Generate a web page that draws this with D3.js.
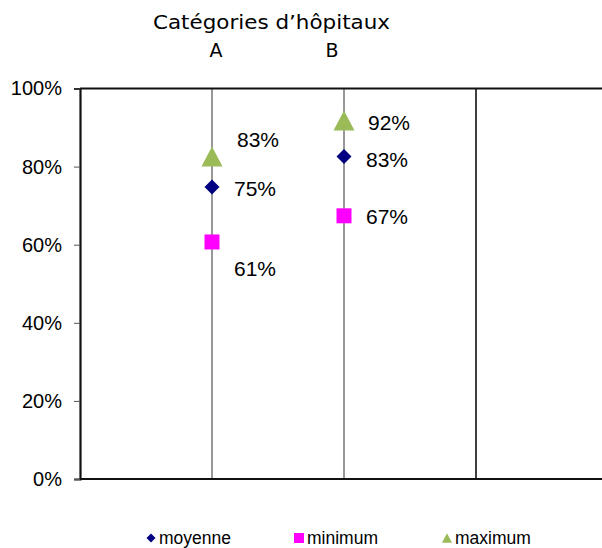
<!DOCTYPE html>
<html><head><meta charset="utf-8">
<script src="https://cdn.jsdelivr.net/npm/d3@7"></script>
<style>body{margin:0;background:#fff}svg{display:block}</style>
</head><body>
<svg id="c" width="602" height="548"></svg>
<script>
const categories = ["A", "B"];
const moyenne = [0.748, 0.826];
const minimum = [0.607, 0.674];
const maximum = [0.826, 0.918];
const yTicks = [0, 0.2, 0.4, 0.6, 0.8, 1.0];
const title = "Catégories d’hôpitaux";
const seriesNames = ["moyenne", "minimum", "maximum"];

const svg = d3.select("#c");
const L = 80, T = 88.5, B = 479, R = 608;
const x = d3.scaleLinear().domain([0, 4]).range([L, R]);
const y = d3.scaleLinear().domain([0, 1]).range([B, T]);
const sans = "Liberation Sans, Arial, sans-serif";

// custom symbols sized by bounding box (size = width)
const sym = {
  moyenne: { draw(ctx, w) { const h = w / 2; ctx.moveTo(0, -h); ctx.lineTo(h, 0); ctx.lineTo(0, h); ctx.lineTo(-h, 0); ctx.closePath(); } },
  minimum: { draw(ctx, w) { const h = w / 2; ctx.rect(-h, -h, w, w); } },
  maximum: { draw(ctx, w) { const h = w / 2, v = w * 0.95 / 2; ctx.moveTo(0, -v); ctx.lineTo(h, v); ctx.lineTo(-h, v); ctx.closePath(); } }
};
const colors = { moyenne: "#000080", minimum: "#ff00ff", maximum: "#9bbb59" };
const sizes = { moyenne: 15, minimum: 15, maximum: 21 };

// category separators
[1, 2, 3].forEach((i, k) => {
  svg.append("line").attr("x1", x(i)).attr("x2", x(i)).attr("y1", T).attr("y2", B)
    .attr("stroke", k < 2 ? "#333" : "#111").attr("stroke-width", k < 2 ? 1 : 1.6);
});
// top & bottom borders
svg.append("line").attr("x1", L).attr("x2", 602).attr("y1", T).attr("y2", T).attr("stroke", "#111").attr("stroke-width", 2);
svg.append("line").attr("x1", L).attr("x2", 602).attr("y1", B).attr("y2", B).attr("stroke", "#111").attr("stroke-width", 2);

// y axis
const ya = svg.append("g").attr("transform", `translate(${L},0)`)
  .call(d3.axisLeft(y).tickValues(yTicks).tickFormat(d3.format(".0%")).tickSize(6).tickPadding(12));
ya.select(".domain").attr("stroke", "#111").attr("stroke-width", 2.2);
ya.selectAll(".tick line").attr("stroke", "#555");
ya.selectAll("text").attr("font-family", sans).attr("font-size", 20).attr("fill", "#000");

// title & category labels
const tf = "DejaVu Sans, sans-serif";
svg.append("text").attr("x", 153).attr("y", 29)
  .attr("font-family", tf).attr("font-size", 19)
  .attr("textLength", 237).attr("lengthAdjust", "spacingAndGlyphs").text(title);
const catX = [216, 332];
categories.forEach((c, i) => {
  svg.append("text").attr("x", catX[i]).attr("y", 57).attr("text-anchor", "middle")
    .attr("font-family", tf).attr("font-size", 19).text(c);
});

const series = { moyenne, minimum, maximum };
// label offsets relative to the marker
const labelDy = { moyenne: [2, 3], minimum: [27, 1], maximum: [-17, 2] };
const labelDx = { moyenne: [22, 22], minimum: [22, 22], maximum: [25, 24] };

seriesNames.forEach(name => {
  series[name].forEach((v, i) => {
    const cx = x(i + 1), cy = y(v);
    svg.append("path").attr("d", d3.symbol().type(sym[name]).size(sizes[name])())
      .attr("transform", `translate(${cx},${cy})`).attr("fill", colors[name]);
    svg.append("text").attr("x", cx + labelDx[name][i]).attr("y", cy + labelDy[name][i]).attr("dy", "0.35em")
      .attr("font-family", sans).attr("font-size", 21)
      .text(d3.format(".0%")(v));
  });
});

// legend
const legX = [151, 299, 447];
const legY = 538;
const legSize = { moyenne: 9, minimum: 10, maximum: 10 };
seriesNames.forEach((name, i) => {
  svg.append("path").attr("d", d3.symbol().type(sym[name]).size(legSize[name])())
    .attr("transform", `translate(${legX[i]},${legY})`).attr("fill", colors[name]);
  svg.append("text").attr("x", legX[i] + 8).attr("y", legY).attr("dy", "0.35em")
    .attr("font-family", sans).attr("font-size", 17.5).text(name);
});
</script>
</body></html>
